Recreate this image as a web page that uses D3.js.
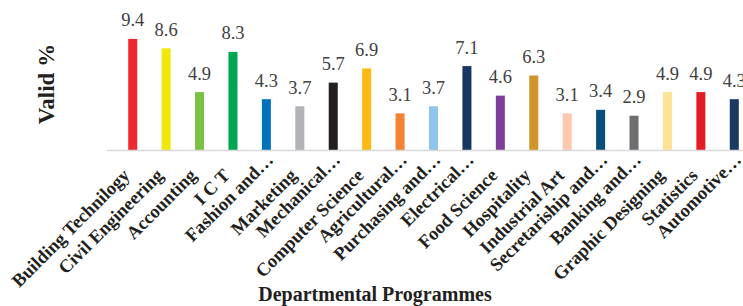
<!DOCTYPE html>
<html>
<head>
<meta charset="utf-8">
<script src="https://cdn.jsdelivr.net/npm/d3@7"></script>
<style>
  body { margin: 0; background: #fff; }
</style>
</head>
<body>
<script>
// programmes and their valid %
var programmes = ["Building Technilogy", "Civil Engineering", "Accounting", "I C T", "Fashion and\u2026",
    "Marketing", "Mechanical\u2026", "Computer Science", "Agricultural\u2026", "Purchasing and\u2026",
    "Electrical\u2026", "Food Science", "Hospitality", "Industrial Art", "Secretariship and\u2026",
    "Banking and\u2026", "Graphic Designing", "Statistics", "Automotive\u2026"];
var validPct = [9.4, 8.6, 4.9, 8.3, 4.3, 3.7, 5.7, 6.9, 3.1, 3.7, 7.1, 4.6, 6.3, 3.1, 3.4, 2.9, 4.9, 4.9, 4.3];
var barColors = ["#ee2a2e", "#f2e70a", "#7ac143", "#00a651", "#0072bc", "#b1b3b6", "#231f20", "#fdb913",
    "#f58235", "#8dc6ea", "#163763", "#7f3f98", "#cf952a", "#fcc9ae", "#084f7b", "#6d6e71", "#fde293",
    "#e31e24", "#1b3a63"];

var width = 743, height = 306;
var baseY = 150;
var serif = "'Liberation Serif', 'Times New Roman', 'DejaVu Serif', serif";

var svg = d3.select("body").append("svg")
    .attr("width", width)
    .attr("height", height)
    .style("font-family", serif);

var x = d3.scaleBand()
    .domain(programmes)
    .range([116, 751])
    .paddingInner(0.73)
    .paddingOuter(0.365);

var y = d3.scaleLinear()
    .domain([0, 10])
    .range([baseY, baseY - 118.2]);

// bars
svg.selectAll("rect.bar")
    .data(programmes)
    .enter()
    .append("rect")
    .attr("class", "bar")
    .attr("x", function(d) { return x(d); })
    .attr("y", function(d, i) { return y(validPct[i]); })
    .attr("width", x.bandwidth())
    .attr("height", function(d, i) { return baseY - y(validPct[i]); })
    .style("fill", function(d, i) { return barColors[i]; });

// axis line
svg.append("line")
    .attr("x1", 107)
    .attr("x2", width)
    .attr("y1", baseY + 0.5)
    .attr("y2", baseY + 0.5)
    .style("stroke", "#d9d9d9")
    .style("stroke-width", 1.5);

// value labels
svg.selectAll("text.val")
    .data(programmes)
    .enter()
    .append("text")
    .attr("class", "val")
    .attr("x", function(d) { return x(d) + x.bandwidth() / 2; })
    .attr("y", function(d, i) { return y(validPct[i]) - 12.5; })
    .attr("text-anchor", "middle")
    .style("font-size", "18.5px")
    .style("fill", "#404040")
    .text(function(d, i) { return validPct[i].toFixed(1); });

// category labels (truncated ones sit a bit further along the axis)
svg.selectAll("text.cat")
    .data(programmes)
    .enter()
    .append("text")
    .attr("class", "cat")
    .attr("transform", function(d) {
        return "translate(" + (x(d) + x.bandwidth() / 2 + 8) + "," + (baseY + 11) + ") rotate(-45)";
    })
    .attr("dx", function(d) { return d.slice(-1) == "\u2026" ? 0 : -18; })
    .attr("dy", function(d) { return d.slice(-1) == "\u2026" ? 0 : 4; })
    .attr("text-anchor", "end")
    .style("font-size", "18.5px")
    .style("font-weight", "bold")
    .style("fill", "#231f20")
    .text(function(d) { return d; });

// axis titles
svg.append("text")
    .attr("transform", "translate(54,84) rotate(-90)")
    .attr("text-anchor", "middle")
    .style("font-size", "23px")
    .style("font-weight", "bold")
    .style("fill", "#231f20")
    .text("Valid %");

svg.append("text")
    .attr("x", 375)
    .attr("y", 301)
    .attr("text-anchor", "middle")
    .style("font-size", "20px")
    .style("font-weight", "bold")
    .style("fill", "#231f20")
    .text("Departmental Programmes");
</script>
</body>
</html>
